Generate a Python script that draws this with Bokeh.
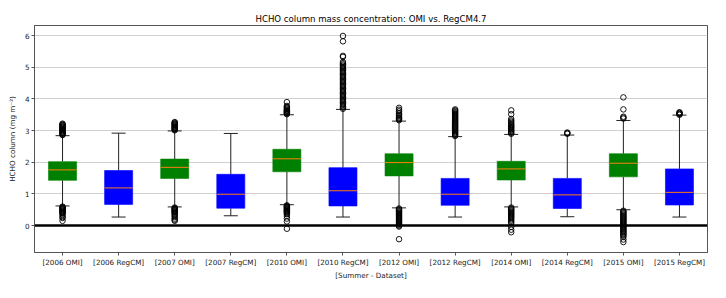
from bokeh.plotting import figure
from bokeh.models import Range1d, FixedTicker, Span, ColumnDataSource
from bokeh.transform import dodge
from bokeh.embed import file_html
from bokeh.resources import INLINE

categories = ["[2006 OMI]", "[2006 RegCM]", "[2007 OMI]", "[2007 RegCM]",
              "[2010 OMI]", "[2010 RegCM]", "[2012 OMI]", "[2012 RegCM]",
              "[2014 OMI]", "[2014 RegCM]", "[2015 OMI]", "[2015 RegCM]"]
dataset = ["OMI", "RegCM"] * 6
q1 = [1.43, 0.67, 1.49, 0.55, 1.70, 0.62, 1.57, 0.64, 1.44, 0.54, 1.54, 0.65]
median = [1.76, 1.19, 1.84, 0.99, 2.11, 1.10, 1.99, 0.99, 1.79, 0.97, 1.97, 1.05]
q3 = [2.02, 1.74, 2.10, 1.62, 2.41, 1.83, 2.27, 1.49, 2.03, 1.49, 2.27, 1.79]
whisker_low = [0.62, 0.27, 0.59, 0.31, 0.66, 0.27, 0.56, 0.27, 0.59, 0.28, 0.50, 0.27]
whisker_high = [2.84, 2.92, 2.99, 2.91, 3.50, 3.67, 3.30, 2.81, 2.88, 2.86, 3.32, 3.49]

o_2006_omi = [2.86, 2.88, 2.90, 2.92, 2.94, 2.96, 2.98, 3.00, 3.02, 3.04, 3.06, 3.08, 3.10,
              3.12, 3.14, 3.16, 3.18, 3.20, 3.22,
              0.60, 0.58, 0.56, 0.54, 0.52, 0.50, 0.48, 0.46, 0.44, 0.42, 0.40, 0.37,
              0.33, 0.27, 0.24, 0.15]
o_2006_regcm = []
o_2007_omi = [3.01, 3.03, 3.05, 3.07, 3.09, 3.11, 3.13, 3.15, 3.17, 3.19, 3.21, 3.23, 3.25, 3.27,
              0.57, 0.55, 0.53, 0.51, 0.49, 0.47, 0.45, 0.43, 0.41, 0.38, 0.35, 0.31,
              0.27, 0.22, 0.18, 0.15]
o_2007_regcm = []
o_2010_omi = [3.52, 3.54, 3.56, 3.58, 3.60, 3.62, 3.64, 3.66, 3.69, 3.72, 3.75, 3.78, 3.90,
              0.64, 0.62, 0.60, 0.58, 0.56, 0.54, 0.52, 0.50, 0.48, 0.46, 0.44, 0.42,
              0.39, 0.36, 0.30, 0.22, 0.13, -0.10]
o_2010_regcm = [3.69, 3.73, 3.77, 3.81, 3.85, 3.89, 3.93, 3.97, 4.01, 4.05, 4.09, 4.13, 4.17,
                4.21, 4.25, 4.29, 4.33, 4.37, 4.41, 4.45, 4.49, 4.53, 4.57, 4.61, 4.65,
                4.69, 4.73, 4.77, 4.81, 4.85, 4.89, 4.93, 4.97, 5.01, 5.05, 5.09, 5.13,
                5.17, 5.33, 5.36, 5.82, 5.99]
o_2012_omi = [3.33, 3.36, 3.39, 3.42, 3.46, 3.50, 3.55, 3.61, 3.66, 3.72,
              0.54, 0.51, 0.48, 0.45, 0.42, 0.39, 0.36, 0.33, 0.30, 0.27, 0.24, 0.21,
              0.18, 0.15, 0.12, 0.09, 0.06, 0.03, 0.00, -0.03, -0.43]
o_2012_regcm = [2.83, 2.86, 2.89, 2.92, 2.95, 2.98, 3.01, 3.04, 3.07, 3.10, 3.13, 3.16, 3.19,
                3.22, 3.25, 3.28, 3.31, 3.34, 3.37, 3.40, 3.43, 3.46, 3.49, 3.52, 3.55,
                3.58, 3.61, 3.64, 3.67]
o_2014_omi = [2.90, 2.93, 2.96, 2.99, 3.02, 3.05, 3.08, 3.11, 3.14, 3.17, 3.20, 3.24, 3.28,
              3.32, 3.37, 3.52, 3.64,
              0.57, 0.54, 0.51, 0.48, 0.45, 0.42, 0.39, 0.36, 0.33, 0.30, 0.27, 0.24,
              0.20, 0.16, 0.12, 0.08, -0.04, -0.13, -0.21]
o_2014_regcm = [2.90, 2.92, 2.94]
o_2015_omi = [3.38, 3.41, 3.44, 3.67, 4.05,
              0.47, 0.44, 0.41, 0.38, 0.35, 0.32, 0.29, 0.26, 0.23, 0.20, 0.17, 0.14,
              0.11, 0.08, 0.05, 0.02, -0.01, -0.04, -0.07, -0.10, -0.13, -0.16, -0.19,
              -0.22, -0.25, -0.28, -0.32, -0.36, -0.44, -0.52]
o_2015_regcm = [3.50, 3.52, 3.54, 3.56, 3.58]

outlier_lists = [o_2006_omi, o_2006_regcm, o_2007_omi, o_2007_regcm, o_2010_omi, o_2010_regcm,
                 o_2012_omi, o_2012_regcm, o_2014_omi, o_2014_regcm, o_2015_omi, o_2015_regcm]
y_ticks = [0, 1, 2, 3, 4, 5, 6]

color_map = {"OMI": "#008000", "RegCM": "#0000ff"}
FONT = "DejaVu Sans"
BOX_W = 0.5
CAP_W = 0.25

pos = list(range(1, len(categories) + 1))
src = ColumnDataSource(dict(x=pos, q1=q1, med=median, q3=q3,
                            lo=whisker_low, hi=whisker_high,
                            color=[color_map[d] for d in dataset]))
ox, oy = [], []
for xi, lst in zip(pos, outlier_lists):
    for v in lst:
        ox.append(xi)
        oy.append(v)
osrc = ColumnDataSource(dict(x=ox, y=oy))

p = figure(width=710, height=282, output_backend="svg", toolbar_location=None,
           x_range=Range1d(0.5, len(categories) + 0.5), y_range=Range1d(-0.85, 6.32),
           title="HCHO column mass concentration: OMI vs. RegCM4.7",
           min_border_left=34, min_border_right=3, min_border_top=25, min_border_bottom=0)

p.title.align = "center"
p.title.text_font = FONT
p.title.text_font_size = "8.6px"
p.title.text_font_style = "normal"
p.title.text_color = "black"
p.title.standoff = 4
p.title.offset = 0

p.xgrid.grid_line_color = None
p.ygrid.grid_line_color = "#d0d0d0"
p.ygrid.grid_line_width = 1
p.yaxis.ticker = FixedTicker(ticks=y_ticks)
p.xaxis.ticker = FixedTicker(ticks=pos)
p.xaxis.major_label_overrides = {xi: c for xi, c in zip(pos, categories)}

for ax in (p.xaxis[0], p.yaxis[0]):
    ax.axis_line_color = "#555555"
    ax.major_tick_line_color = "#555555"
    ax.major_tick_out = 3
    ax.major_tick_in = 0
    ax.minor_tick_line_color = None
    ax.major_label_text_font = FONT
    ax.major_label_text_font_size = "7.2px"
    ax.major_label_text_color = "#222222"
    ax.axis_label_text_font = FONT
    ax.axis_label_text_font_size = "7.2px"
    ax.axis_label_text_font_style = "normal"
    ax.axis_label_text_color = "#222222"
    ax.major_label_standoff = 2

p.xaxis.axis_label_standoff = 1
p.yaxis.axis_label_standoff = 5
p.xaxis.axis_label = "[Summer - Dataset]"
p.yaxis.axis_label = "HCHO column (mg m\u207b\u00b2)"
p.outline_line_color = "#555555"
p.outline_line_width = 1

# whiskers
p.segment(x0="x", x1="x", y0="q3", y1="hi", source=src, line_color="#222222", line_width=1)
p.segment(x0="x", x1="x", y0="lo", y1="q1", source=src, line_color="#222222", line_width=1)
# caps
p.segment(x0=dodge("x", -CAP_W / 2), x1=dodge("x", CAP_W / 2), y0="hi", y1="hi",
          source=src, line_color="#222222", line_width=1)
p.segment(x0=dodge("x", -CAP_W / 2), x1=dodge("x", CAP_W / 2), y0="lo", y1="lo",
          source=src, line_color="#222222", line_width=1)
# boxes
p.vbar(x="x", width=BOX_W, bottom="q1", top="q3", source=src,
       fill_color="color", line_color="color", line_alpha=0.6, line_width=1)
# medians
p.segment(x0=dodge("x", -BOX_W / 2), x1=dodge("x", BOX_W / 2), y0="med", y1="med",
          source=src, line_color="#ff7f0e", line_width=1)

p.add_layout(Span(location=0, dimension="width", line_color="black", line_width=2.5))

# fliers
p.scatter(x="x", y="y", source=osrc, marker="circle", size=5.5,
          fill_color=None, line_color="black", line_width=0.9)

open("out.html", "w").write(file_html(p, INLINE))
